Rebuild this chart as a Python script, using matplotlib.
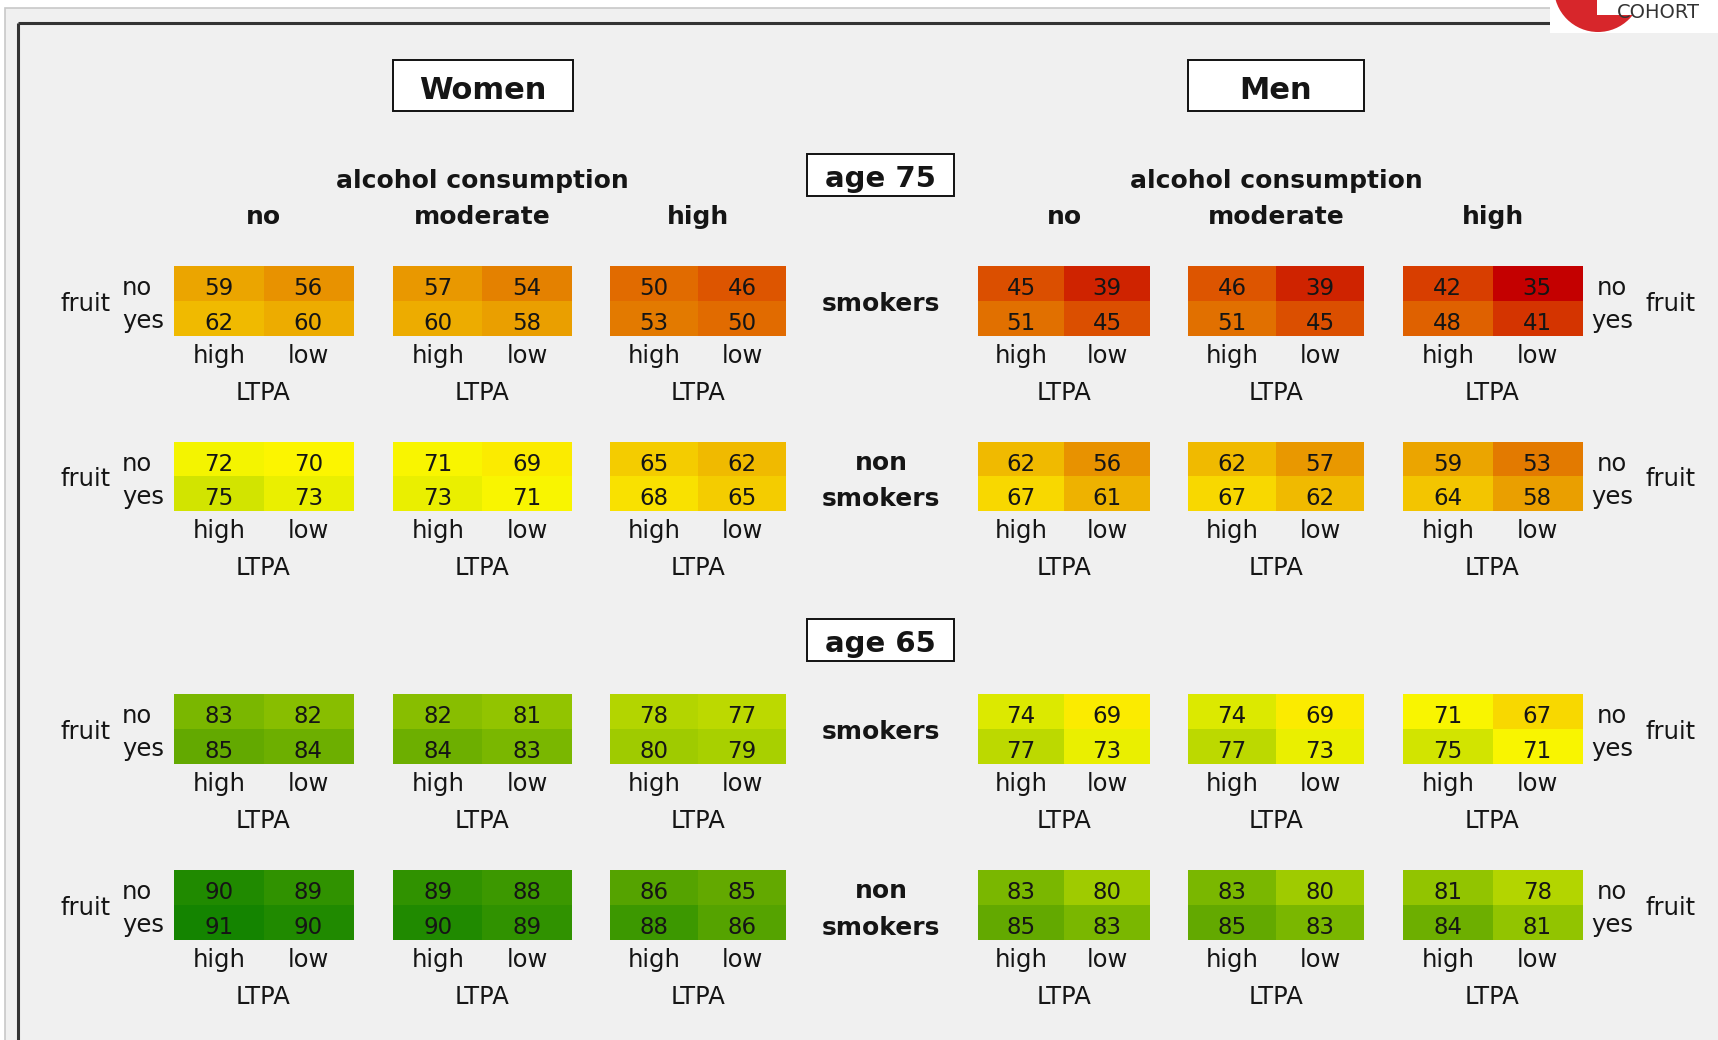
import numpy as np
import matplotlib
matplotlib.use("Agg")
import matplotlib.pyplot as plt
from matplotlib.colors import LinearSegmentedColormap, Normalize
from matplotlib.patches import Rectangle, Circle

# ---------------- data ----------------
sexes = ["Women", "Men"]
age_labels = ["age 75", "age 65"]
alcohol_levels = ["no", "moderate", "high"]
fruit_levels = ["no", "yes"]
ltpa_levels = ["high", "low"]
smoking_labels = [["smokers"], ["non", "smokers"]]

# values[alcohol][fruit(no, yes)][LTPA(high, low)]
women_75_smokers = [[[59, 56], [62, 60]], [[57, 54], [60, 58]], [[50, 46], [53, 50]]]
women_75_nonsmokers = [[[72, 70], [75, 73]], [[71, 69], [73, 71]], [[65, 62], [68, 65]]]
men_75_smokers = [[[45, 39], [51, 45]], [[46, 39], [51, 45]], [[42, 35], [48, 41]]]
men_75_nonsmokers = [[[62, 56], [67, 61]], [[62, 57], [67, 62]], [[59, 53], [64, 58]]]
women_65_smokers = [[[83, 82], [85, 84]], [[82, 81], [84, 83]], [[78, 77], [80, 79]]]
women_65_nonsmokers = [[[90, 89], [91, 90]], [[89, 88], [90, 89]], [[86, 85], [88, 86]]]
men_65_smokers = [[[74, 69], [77, 73]], [[74, 69], [77, 73]], [[71, 67], [75, 71]]]
men_65_nonsmokers = [[[83, 80], [85, 83]], [[83, 80], [85, 83]], [[81, 78], [84, 81]]]

# rows: (age index, smoking index, women data, men data)
rows = [
    (0, 0, women_75_smokers, men_75_smokers),
    (0, 1, women_75_nonsmokers, men_75_nonsmokers),
    (1, 0, women_65_smokers, men_65_smokers),
    (1, 1, women_65_nonsmokers, men_65_nonsmokers),
]

# colour scale anchors (value -> colour)
scale_values = [35, 42, 48, 53, 56, 62, 67, 70, 72, 75, 78, 80, 83, 85, 88, 91]
scale_colors = ["#c40000", "#d83e00", "#e06200", "#e37a00", "#e89200", "#f0ba00",
                "#f8d800", "#fdf500", "#f6f500", "#d2e400", "#b4d600", "#a0cc00",
                "#7cb800", "#64aa00", "#3f9a00", "#148400"]

# ---------------- layout (pixels) ----------------
W, H = 1718, 1040
block_x = {
    "Women": [(174, 353), (393, 572), (610, 786)],
    "Men": [(978, 1150), (1188, 1364), (1403, 1582)],
}
row_y = [(266, 336), (442, 511), (694, 764), (870, 940)]

TXT = "#151515"
FS_NUM = 16.5
FS_LAB = 17.5
FS_BOLD = 18

vmin, vmax = scale_values[0], scale_values[-1]
cmap = LinearSegmentedColormap.from_list(
    "surv", [((v - vmin) / (vmax - vmin), c) for v, c in zip(scale_values, scale_colors)])
norm = Normalize(vmin=vmin, vmax=vmax)

fig = plt.figure(figsize=(W / 100, H / 100), dpi=100)
fig.patch.set_facecolor("white")
ax = fig.add_axes([0, 0, 1, 1])
ax.set_xlim(0, W)
ax.set_ylim(H, 0)
ax.axis("off")

# background / frame
ax.add_patch(Rectangle((5, 8), W + 20, H + 20, facecolor="#f0f0f0",
                       edgecolor="#c8c8c8", lw=1.2, zorder=0))
ax.plot([18, 1550], [23, 23], color="#333333", lw=2.2, zorder=1, solid_capstyle="butt")
ax.plot([18, 18], [23, H + 5], color="#333333", lw=2.2, zorder=1, solid_capstyle="butt")

# logo corner
ax.add_patch(Rectangle((1550, -5), 200, 38, facecolor="white", edgecolor="none", zorder=2))
ax.add_patch(Circle((1598, -12), 44, facecolor="#d7262b", edgecolor="none", zorder=3))
ax.add_patch(Rectangle((1597, -20), 60, 35, facecolor="white", edgecolor="none", zorder=4))
ax.text(1617, 18, "COHORT", fontsize=14, color="#333333", ha="left", va="baseline",
        zorder=5)


def frac(x0, y0, x1, y1):
    return [x0 / W, 1 - y1 / H, (x1 - x0) / W, (y1 - y0) / H]


def boxed(cx, x0, x1, y0, y1, text, fs, baseline):
    ax.add_patch(Rectangle((x0, y0), x1 - x0, y1 - y0, facecolor="white",
                           edgecolor="#111111", lw=1.4, zorder=2))
    ax.text(cx, baseline, text, fontsize=fs, fontweight="bold", color=TXT,
            ha="center", va="baseline", zorder=3)


# sex headers
for sex, (bx0, bx1), baseline in [("Women", (393, 573), 99), ("Men", (1188, 1364), 99)]:
    boxed((bx0 + bx1) / 2, bx0, bx1, 60, 111, sex, 22, baseline)

# age headers
boxed(880, 807, 954, 154, 196, age_labels[0], 21, 187)
boxed(880, 807, 954, 619, 661, age_labels[1], 21, 652)

# alcohol headers
for sex in sexes:
    centers = [(a + b) / 2 for a, b in block_x[sex]]
    ax.text(centers[1], 188, "alcohol consumption", fontsize=FS_BOLD, fontweight="bold",
            color=TXT, ha="center", va="baseline")
    for c, lev in zip(centers, alcohol_levels):
        ax.text(c, 224, lev, fontsize=FS_BOLD, fontweight="bold", color=TXT,
                ha="center", va="baseline")

# heat blocks
for r, (age_i, smoke_i, wdata, mdata) in enumerate(rows):
    y0, y1 = row_y[r]
    for sex, data in zip(sexes, [wdata, mdata]):
        for a, (x0, x1) in enumerate(block_x[sex]):
            vals = np.array(data[a])
            iax = fig.add_axes(frac(x0, y0, x1, y1))
            iax.imshow(vals, cmap=cmap, norm=norm, aspect="auto", interpolation="nearest")
            iax.axis("off")
            for i in range(vals.shape[0]):
                for j in range(vals.shape[1]):
                    iax.text(j, i + 0.33, str(vals[i, j]), fontsize=FS_NUM, color=TXT,
                             ha="center", va="baseline")
            cw = (x1 - x0) / 2
            for j, lev in enumerate(ltpa_levels):
                ax.text(x0 + cw * (j + 0.5), y1 + 27, lev, fontsize=FS_LAB, color=TXT,
                        ha="center", va="baseline")
            ax.text((x0 + x1) / 2, y1 + 64, "LTPA", fontsize=FS_LAB, color=TXT,
                    ha="center", va="baseline")
    # fruit labels left
    ax.text(86, (y0 + y1) / 2 + 10, "fruit", fontsize=FS_LAB, color=TXT, ha="center", va="baseline")
    for k, lev in enumerate(fruit_levels):
        ax.text(122, y0 + 29 + k * 33, lev, fontsize=FS_LAB, color=TXT, ha="left", va="baseline")
        ax.text(1612, y0 + 29 + k * 33, lev, fontsize=FS_LAB, color=TXT, ha="center", va="baseline")
    ax.text(1671, (y0 + y1) / 2 + 10, "fruit", fontsize=FS_LAB, color=TXT, ha="center", va="baseline")
    # smoking labels
    lines = smoking_labels[smoke_i]
    yc = (y0 + y1) / 2
    if len(lines) == 1:
        ax.text(881, yc + 10, lines[0], fontsize=FS_BOLD, fontweight="bold", color=TXT,
                ha="center", va="baseline")
    else:
        ax.text(881, yc - 7, lines[0], fontsize=FS_BOLD, fontweight="bold", color=TXT,
                ha="center", va="baseline")
        ax.text(881, yc + 30, lines[1], fontsize=FS_BOLD, fontweight="bold", color=TXT,
                ha="center", va="baseline")

fig.savefig("out.png", dpi=100, facecolor=fig.get_facecolor())
